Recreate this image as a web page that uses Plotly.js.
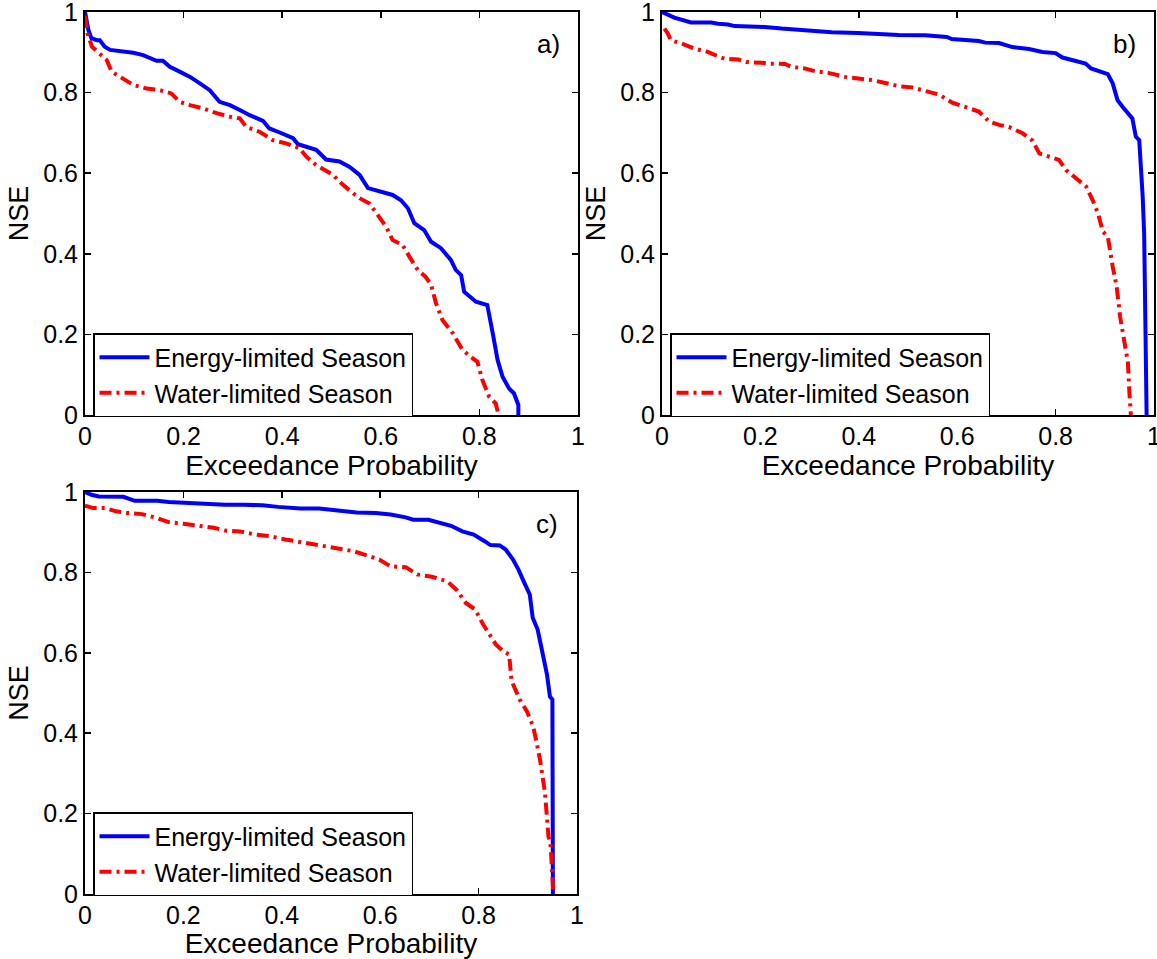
<!DOCTYPE html>
<html>
<head>
<meta charset="utf-8">
<script src="https://cdn.plot.ly/plotly-3.0.1.min.js"></script>
<style>html,body{margin:0;padding:0;background:#fff;}#chart{width:1157px;height:959px;}</style>
</head>
<body>
<div id="chart"></div>
<script>
// ---------- data ----------
const seriesNames = ["Energy-limited Season", "Water-limited Season"];
const panelLabels = ["a)", "b)", "c)"];
const xTitle = "Exceedance Probability";
const yTitle = "NSE";
const tickVals = [0, 0.2, 0.4, 0.6, 0.8, 1];

// Panel a
const aEnergyX = [0, 0.007, 0.013, 0.024, 0.03, 0.04, 0.051, 0.071, 0.098, 0.118, 0.145, 0.158, 0.172, 0.192, 0.213, 0.233, 0.253, 0.273, 0.294, 0.314, 0.334, 0.361, 0.374, 0.395, 0.415, 0.422, 0.432, 0.469, 0.489, 0.516, 0.536, 0.557, 0.574, 0.597, 0.624, 0.641, 0.655, 0.668, 0.688, 0.702, 0.722, 0.742, 0.752, 0.763, 0.769, 0.793, 0.816, 0.827, 0.837, 0.847, 0.860, 0.870, 0.879, 0.879];
const aEnergyY = [1.0, 0.955, 0.935, 0.93, 0.93, 0.914, 0.906, 0.904, 0.899, 0.893, 0.879, 0.879, 0.864, 0.852, 0.839, 0.823, 0.806, 0.777, 0.769, 0.757, 0.744, 0.730, 0.711, 0.701, 0.692, 0.687, 0.672, 0.658, 0.634, 0.629, 0.616, 0.596, 0.563, 0.554, 0.546, 0.533, 0.513, 0.476, 0.459, 0.430, 0.414, 0.385, 0.360, 0.347, 0.306, 0.281, 0.273, 0.203, 0.136, 0.095, 0.066, 0.054, 0.025, 0];
const aWaterX = [0, 0.005, 0.014, 0.030, 0.044, 0.054, 0.071, 0.098, 0.125, 0.152, 0.175, 0.192, 0.213, 0.239, 0.267, 0.294, 0.314, 0.327, 0.354, 0.381, 0.408, 0.435, 0.449, 0.469, 0.503, 0.516, 0.536, 0.557, 0.577, 0.594, 0.611, 0.624, 0.644, 0.658, 0.675, 0.691, 0.702, 0.712, 0.725, 0.746, 0.766, 0.786, 0.796, 0.806, 0.820, 0.833, 0.839];
const aWaterY = [0.99, 0.947, 0.914, 0.897, 0.881, 0.852, 0.839, 0.819, 0.810, 0.806, 0.798, 0.777, 0.769, 0.761, 0.749, 0.740, 0.736, 0.715, 0.703, 0.682, 0.674, 0.662, 0.641, 0.620, 0.596, 0.579, 0.558, 0.538, 0.525, 0.496, 0.467, 0.434, 0.422, 0.393, 0.360, 0.343, 0.323, 0.277, 0.236, 0.203, 0.161, 0.141, 0.132, 0.087, 0.045, 0.029, 0];

// Panel b
const bEnergyX = [0, 0.012, 0.025, 0.059, 0.100, 0.114, 0.134, 0.148, 0.195, 0.209, 0.243, 0.263, 0.317, 0.345, 0.399, 0.447, 0.481, 0.535, 0.579, 0.589, 0.623, 0.644, 0.657, 0.685, 0.712, 0.746, 0.773, 0.800, 0.814, 0.834, 0.861, 0.872, 0.889, 0.906, 0.916, 0.926, 0.936, 0.950, 0.956, 0.963, 0.970, 0.977, 0.980, 0.985];
const bEnergyY = [1.0, 0.992, 0.986, 0.974, 0.974, 0.971, 0.969, 0.965, 0.965, 0.963, 0.959, 0.957, 0.953, 0.950, 0.948, 0.945, 0.943, 0.942, 0.938, 0.933, 0.930, 0.928, 0.924, 0.923, 0.913, 0.908, 0.901, 0.898, 0.887, 0.880, 0.872, 0.860, 0.854, 0.846, 0.823, 0.781, 0.765, 0.744, 0.736, 0.691, 0.682, 0.542, 0.451, 0];
const bWaterX = [0.005, 0.012, 0.018, 0.039, 0.066, 0.093, 0.114, 0.127, 0.155, 0.171, 0.202, 0.216, 0.250, 0.263, 0.290, 0.311, 0.338, 0.372, 0.399, 0.427, 0.454, 0.481, 0.508, 0.535, 0.563, 0.590, 0.617, 0.644, 0.665, 0.685, 0.705, 0.733, 0.753, 0.767, 0.787, 0.807, 0.821, 0.841, 0.862, 0.875, 0.886, 0.896, 0.906, 0.916, 0.924, 0.931, 0.940, 0.947, 0.950, 0.953];
const bWaterY = [0.959, 0.946, 0.930, 0.922, 0.909, 0.901, 0.890, 0.884, 0.882, 0.876, 0.874, 0.872, 0.871, 0.864, 0.860, 0.853, 0.849, 0.839, 0.835, 0.831, 0.824, 0.816, 0.813, 0.804, 0.795, 0.775, 0.765, 0.753, 0.728, 0.720, 0.715, 0.699, 0.681, 0.649, 0.641, 0.633, 0.608, 0.587, 0.567, 0.534, 0.501, 0.455, 0.443, 0.369, 0.319, 0.245, 0.179, 0.130, 0.055, 0];

// Panel c
const cEnergyX = [0, 0.013, 0.028, 0.055, 0.078, 0.101, 0.147, 0.170, 0.200, 0.231, 0.285, 0.323, 0.361, 0.392, 0.438, 0.476, 0.514, 0.552, 0.591, 0.621, 0.652, 0.667, 0.698, 0.721, 0.744, 0.767, 0.790, 0.813, 0.824, 0.843, 0.855, 0.870, 0.881, 0.893, 0.904, 0.910, 0.920, 0.927, 0.939, 0.945, 0.950, 0.951];
const cEnergyY = [1.0, 0.993, 0.989, 0.988, 0.988, 0.978, 0.978, 0.975, 0.973, 0.970, 0.968, 0.968, 0.967, 0.963, 0.959, 0.959, 0.954, 0.949, 0.948, 0.944, 0.937, 0.931, 0.931, 0.923, 0.916, 0.902, 0.894, 0.877, 0.868, 0.867, 0.857, 0.832, 0.807, 0.774, 0.745, 0.687, 0.658, 0.617, 0.546, 0.491, 0.484, 0];
const cWaterX = [0, 0.017, 0.040, 0.063, 0.086, 0.116, 0.147, 0.170, 0.200, 0.231, 0.262, 0.285, 0.315, 0.346, 0.376, 0.407, 0.430, 0.453, 0.484, 0.514, 0.545, 0.568, 0.598, 0.621, 0.652, 0.675, 0.705, 0.736, 0.755, 0.774, 0.793, 0.809, 0.820, 0.835, 0.850, 0.862, 0.867, 0.884, 0.898, 0.911, 0.918, 0.925, 0.935, 0.942, 0.946, 0.949, 0.952];
const cWaterY = [0.966, 0.960, 0.960, 0.952, 0.948, 0.945, 0.935, 0.925, 0.921, 0.915, 0.911, 0.904, 0.902, 0.894, 0.890, 0.882, 0.877, 0.873, 0.865, 0.861, 0.853, 0.844, 0.832, 0.815, 0.813, 0.795, 0.789, 0.778, 0.757, 0.724, 0.708, 0.671, 0.650, 0.621, 0.604, 0.596, 0.530, 0.483, 0.455, 0.416, 0.377, 0.333, 0.251, 0.143, 0.128, 0.070, 0];

// ---------- styling / layout ----------
const W = 1157, H = 959;
const FONT = "Liberation Sans, Arial, Helvetica, sans-serif";
const BLUE = "#0000ff", RED = "#ff0000";
const REDDASH = "12px,5px,3px,5px";

// panel frames in pixels: [left, right, top, bottom]
const frames = [[85, 578, 12, 415], [662, 1154, 12, 415], [85, 577, 492, 894]];

function px2dom(f) {
  return { x: [f[0] / W, f[1] / W], y: [1 - f[3] / H, 1 - f[2] / H] };
}

function axisBase() {
  return {
    range: [0, 1], autorange: false, tickmode: "array", tickvals: tickVals,
    ticks: "inside", ticklen: 6, tickwidth: 1.5, tickcolor: "#000",
    showline: true, linecolor: "#000", linewidth: 2, mirror: "ticks",
    showgrid: false, zeroline: false, fixedrange: true,
    ticklabeloverflow: "allow",
    tickfont: { family: FONT, size: 25, color: "#000" },
    automargin: false
  };
}

const panels = [
  { ex: aEnergyX, ey: aEnergyY, wx: aWaterX, wy: aWaterY },
  { ex: bEnergyX, ey: bEnergyY, wx: bWaterX, wy: bWaterY },
  { ex: cEnergyX, ey: cEnergyY, wx: cWaterX, wy: cWaterY }
];

const traces = [];
const layout = {
  width: W, height: H,
  margin: { l: 0, r: 0, t: 0, b: 0, pad: 0 },
  paper_bgcolor: "#fff", plot_bgcolor: "#fff",
  font: { family: FONT, color: "#000", size: 25 },
  showlegend: true,
  annotations: []
};

panels.forEach((p, i) => {
  const n = i === 0 ? "" : String(i + 1);
  const xa = "x" + n, ya = "y" + n;
  const lg = "legend" + n;
  traces.push({
    x: p.ex, y: p.ey, xaxis: xa, yaxis: ya, type: "scatter", mode: "lines",
    name: seriesNames[0], legend: lg,
    line: { color: BLUE, width: 4, shape: "linear" }
  });
  traces.push({
    x: p.wx, y: p.wy, xaxis: xa, yaxis: ya, type: "scatter", mode: "lines",
    name: seriesNames[1], legend: lg,
    line: { color: RED, width: 4, dash: REDDASH, shape: "linear" }
  });
  const d = px2dom(frames[i]);
  const xAx = axisBase(), yAx = axisBase();
  xAx.domain = d.x; xAx.anchor = ya;
  yAx.domain = d.y; yAx.anchor = xa;
  xAx.ticklabelstandoff = -2;
  xAx.title = { text: xTitle, font: { family: FONT, size: 28, color: "#000" }, standoff: 6 };
  yAx.title = { text: yTitle, font: { family: FONT, size: 27, color: "#000" }, standoff: 7 };
  layout["xaxis" + n] = xAx;
  layout["yaxis" + n] = yAx;
  const f = frames[i];
  layout[lg] = {
    x: (f[0] + 8) / W, y: 1 - (f[3] - 82) / H, xanchor: "left", yanchor: "top",
    xref: "paper", yref: "paper",
    bgcolor: "#fff", bordercolor: "#000", borderwidth: 1.5,
    font: { family: FONT, size: 25, color: "#000" },
    itemwidth: 50, tracegroupgap: 0, orientation: "v"
  };
  layout.annotations.push({
    text: panelLabels[i], xref: "paper", yref: "paper",
    x: (f[1] - 30) / W, y: 1 - (f[2] + 32) / H,
    xanchor: "center", yanchor: "middle", showarrow: false,
    font: { family: FONT, size: 26, color: "#000" }
  });
});

Plotly.newPlot("chart", traces, layout, { staticPlot: true, displayModeBar: false });
</script>
</body>
</html>
